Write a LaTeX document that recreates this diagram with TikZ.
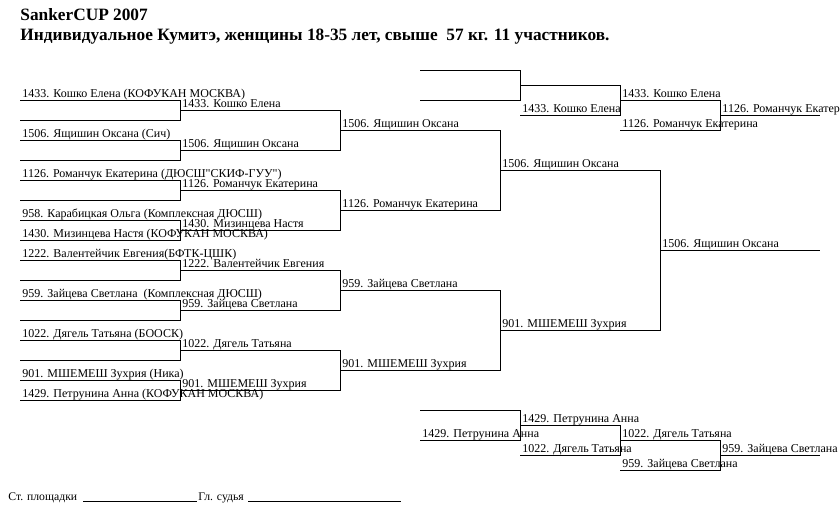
\documentclass[tikz,border=0pt]{standalone}
\usepackage{fontspec}
\setmainfont[Ligatures=TeXOff]{Liberation Serif}
\begin{document}
\begin{tikzpicture}[x=1pt,y=-1pt,line width=0.9pt,
  lbl/.style={anchor=base west,inner sep=0pt,xshift=2pt,yshift=2.5pt,font=\fontsize{12}{14}\selectfont},
  head/.style={anchor=base west,inner sep=0pt,font=\fontsize{17.3}{20}\selectfont\bfseries},
  foot/.style={anchor=base west,inner sep=0pt,font=\fontsize{11.7}{13}\selectfont}]
\useasboundingbox (0,0) rectangle (840,520);

% heading
\node[head] (title) at (20,20) {SankerCUP 2007};
\node[head] (cat) at (20,40) {Индивидуальное Кумитэ, женщины 18-35 лет, свыше~ 57 кг. 11 участников.};

% round 1
\coordinate (p1) at (20,100);
\coordinate (p2) at (20,120);
\coordinate (p3) at (20,140);
\coordinate (p4) at (20,160);
\coordinate (p5) at (20,180);
\coordinate (p6) at (20,200);
\coordinate (p7) at (20,220);
\coordinate (p8) at (20,240);
\coordinate (p9) at (20,260);
\coordinate (p10) at (20,280);
\coordinate (p11) at (20,300);
\coordinate (p12) at (20,320);
\coordinate (p13) at (20,340);
\coordinate (p14) at (20,360);
\coordinate (p15) at (20,380);
\coordinate (p16) at (20,400);
% round 2
\coordinate (q1) at (180,110);
\coordinate (q2) at (180,150);
\coordinate (q3) at (180,190);
\coordinate (q4) at (180,230);
\coordinate (q5) at (180,270);
\coordinate (q6) at (180,310);
\coordinate (q7) at (180,350);
\coordinate (q8) at (180,390);
% round 3
\coordinate (r1) at (340,130);
\coordinate (r2) at (340,210);
\coordinate (r3) at (340,290);
\coordinate (r4) at (340,370);
% semifinal and final
\coordinate (s1) at (500,170);
\coordinate (s2) at (500,330);
\coordinate (f) at (660,250);
\coordinate (fe) at (820,250);

\node[lbl] (tp1) at (p1) {1433. Кошко Елена (КОФУКАН МОСКВА)};
\node[lbl] (tp3) at (p3) {1506. Ящишин Оксана (Сич)};
\node[lbl] (tp5) at (p5) {1126. Романчук Екатерина (ДЮСШ"СКИФ-ГУУ")};
\node[lbl] (tp7) at (p7) {958. Карабицкая Ольга (Комплексная ДЮСШ)};
\node[lbl] (tp8) at (p8) {1430. Мизинцева Настя (КОФУКАН МОСКВА)};
\node[lbl] (tp9) at (p9) {1222. Валентейчик Евгения(БФТК-ЦШК)};
\node[lbl] (tp11) at (p11) {959. Зайцева Светлана~ (Комплексная ДЮСШ)};
\node[lbl] (tp13) at (p13) {1022. Дягель Татьяна (БООСК)};
\node[lbl] (tp15) at (p15) {901. МШЕМЕШ Зухрия (Ника)};
\node[lbl] (tp16) at (p16) {1429. Петрунина Анна (КОФУКАН МОСКВА)};

\node[lbl] (tq1) at (q1) {1433. Кошко Елена};
\node[lbl] (tq2) at (q2) {1506. Ящишин Оксана};
\node[lbl] (tq3) at (q3) {1126. Романчук Екатерина};
\node[lbl] (tq4) at (q4) {1430. Мизинцева Настя};
\node[lbl] (tq5) at (q5) {1222. Валентейчик Евгения};
\node[lbl] (tq6) at (q6) {959. Зайцева Светлана};
\node[lbl] (tq7) at (q7) {1022. Дягель Татьяна};
\node[lbl] (tq8) at (q8) {901. МШЕМЕШ Зухрия};

\node[lbl] (tr1) at (r1) {1506. Ящишин Оксана};
\node[lbl] (tr2) at (r2) {1126. Романчук Екатерина};
\node[lbl] (tr3) at (r3) {959. Зайцева Светлана};
\node[lbl] (tr4) at (r4) {901. МШЕМЕШ Зухрия};

\node[lbl] (ts1) at (s1) {1506. Ящишин Оксана};
\node[lbl] (ts2) at (s2) {901. МШЕМЕШ Зухрия};
\node[lbl] (tf) at (f) {1506. Ящишин Оксана};

% main bracket
\draw (p1) -- (p1 -| q1) -- (p2 -| q1) -- (p2);
\draw (p3) -- (p3 -| q2) -- (p4 -| q2) -- (p4);
\draw (p5) -- (p5 -| q3) -- (p6 -| q3) -- (p6);
\draw (p7) -- (p7 -| q4) -- (p8 -| q4) -- (p8);
\draw (p9) -- (p9 -| q5) -- (p10 -| q5) -- (p10);
\draw (p11) -- (p11 -| q6) -- (p12 -| q6) -- (p12);
\draw (p13) -- (p13 -| q7) -- (p14 -| q7) -- (p14);
\draw (p15) -- (p15 -| q8) -- (p16 -| q8) -- (p16);
\draw (q1) -- (q1 -| r1) -- (q2 -| r1) -- (q2);
\draw (q3) -- (q3 -| r2) -- (q4 -| r2) -- (q4);
\draw (q5) -- (q5 -| r3) -- (q6 -| r3) -- (q6);
\draw (q7) -- (q7 -| r4) -- (q8 -| r4) -- (q8);
\draw (r1) -- (r1 -| s1) -- (r2 -| s1) -- (r2);
\draw (r3) -- (r3 -| s2) -- (r4 -| s2) -- (r4);
\draw (s1) -- (s1 -| f) -- (s2 -| f) -- (s2);
\draw (f) -- (fe);

% repechage, upper half
\coordinate (u1) at (420,70);
\coordinate (u2) at (420,100);
\coordinate (v1) at (520,85);
\coordinate (v2) at (520,115);
\coordinate (w1) at (620,100);
\coordinate (w2) at (620,130);
\coordinate (z) at (720,115);
\coordinate (ze) at (820,115);

\node[lbl] (tv2) at (v2) {1433. Кошко Елена};
\node[lbl] (tw1) at (w1) {1433. Кошко Елена};
\node[lbl] (tw2) at (w2) {1126. Романчук Екатерина};
\node[lbl] (tz) at (z) {1126. Романчук Екатерина};

\draw (u1) -- (u1 -| v1) -- (u2 -| v1) -- (u2);
\draw (v1) -- (v1 -| w1) -- (v2 -| w1) -- (v2);
\draw (w1) -- (w1 -| z) -- (w2 -| z) -- (w2);
\draw (z) -- (ze);

% repechage, lower half
\coordinate (l1) at (420,410);
\coordinate (l2) at (420,440);
\coordinate (m1) at (520,425);
\coordinate (m2) at (520,455);
\coordinate (n1) at (620,440);
\coordinate (n2) at (620,470);
\coordinate (o) at (720,455);
\coordinate (oe) at (820,455);

\node[lbl] (tl2) at (l2) {1429. Петрунина Анна};
\node[lbl] (tm1) at (m1) {1429. Петрунина Анна};
\node[lbl] (tm2) at (m2) {1022. Дягель Татьяна};
\node[lbl] (tn1) at (n1) {1022. Дягель Татьяна};
\node[lbl] (tn2) at (n2) {959. Зайцева Светлана};
\node[lbl] (to) at (o) {959. Зайцева Светлана};

\draw (l1) -- (l1 -| m1) -- (l2 -| m1) -- (l2);
\draw (m1) -- (m1 -| n1) -- (m2 -| n1) -- (m2);
\draw (n1) -- (n1 -| o) -- (n2 -| o) -- (n2);
\draw (o) -- (oe);

% signatures
\node[foot] (st) at (8,500) {Ст. площадки};
\node[foot] (gl) at (198,500) {Гл. судья};
\coordinate (st1) at (83,501);
\coordinate (st2) at (197,501);
\coordinate (gl1) at (248,501);
\coordinate (gl2) at (401,501);
\draw[line width=0.7pt] (st1) -- (st2);
\draw[line width=0.7pt] (gl1) -- (gl2);

\end{tikzpicture}
\end{document}
